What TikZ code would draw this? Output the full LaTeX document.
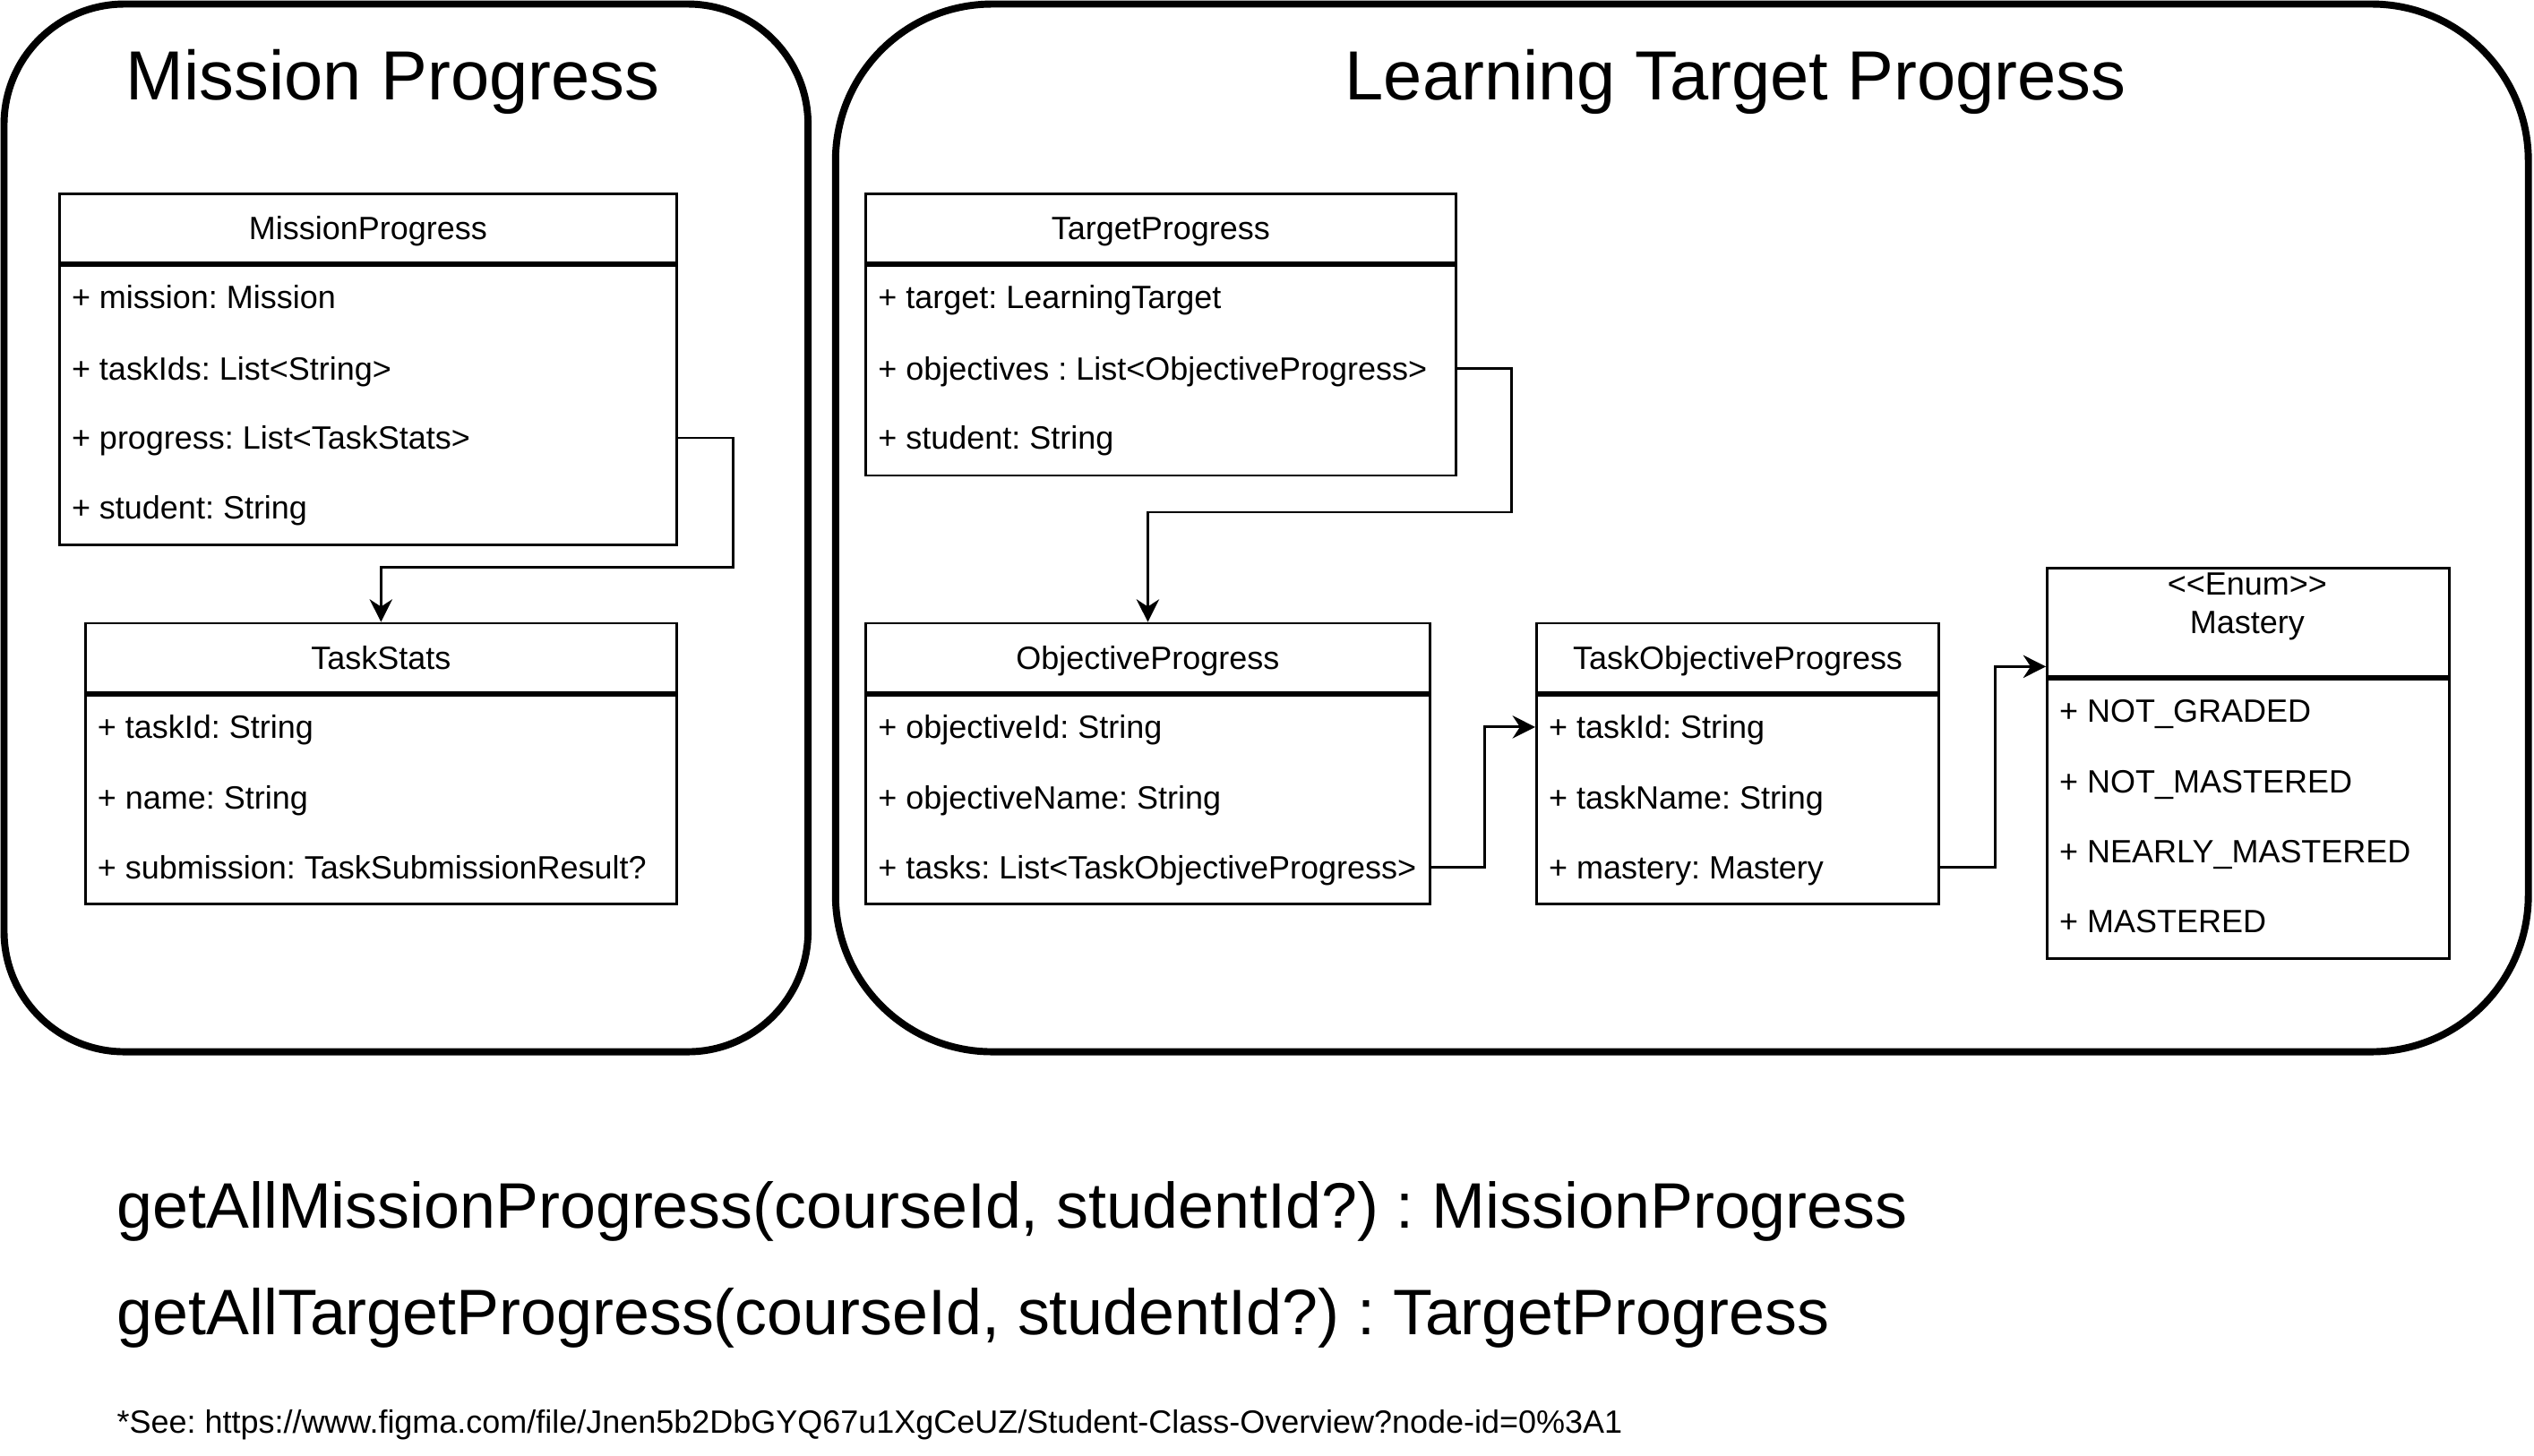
\documentclass[tikz,border=0pt]{standalone}
\usepackage{fontspec}
\setmainfont{Liberation Sans}
\usetikzlibrary{arrows.meta}
\frenchspacing
\tikzset{
	container/.style={draw=black, line width=2.5pt},
	classhead/.style={draw=black, line width=0.9pt, anchor=north west, inner sep=0pt, text height=10pt, text depth=2pt, font=\fontsize{11.35}{13.6}\selectfont},
	classbody/.style={draw=black, line width=0.9pt, anchor=north west, inner sep=0pt},
	attr/.style={anchor=west, inner xsep=0.16cm, inner ysep=0pt, text height=10pt, text depth=2pt, font=\fontsize{11.35}{13.6}\selectfont},
	link/.style={draw=black, line width=0.9pt, -{Stealth[length=8pt, width=8pt, inset=2.6pt]}},
	bigtitle/.style={anchor=base, inner sep=0pt, font=\fontsize{24.5}{29}\selectfont},
	apicall/.style={anchor=base west, inner sep=0pt, font=\fontsize{22.65}{27}\selectfont}
}
\begin{document}
\begin{tikzpicture}[x=0.02cm, y=-0.02cm]
		\useasboundingbox (0,0) rectangle (1568,901.2);
		\draw[container, rounded corners=1.49cm] (2.5,2.5) rectangle (500,651);
		\draw[container, rounded corners=1.94cm] (517,2.5) rectangle (1564.5,651);
		\node[bigtitle] (ttlmission) at (243,62) {Mission Progress};
		\node[bigtitle] (ttltarget) at (1074,62) {Learning Target Progress};
		
		\node[classhead, minimum width=7.64cm, minimum height=0.86cm] (mp) at (36,119) {MissionProgress};
		\node[classbody, minimum width=7.64cm, minimum height=3.46cm] (mpb) at (mp.south west) {};
		\node[attr] (mp1) at (36,184) {+ mission: Mission};
		\node[attr] (mp2) at (36,228) {+ taskIds: List<String>};
		\node[attr] (mp3) at (36,271) {+ progress: List<TaskStats>};
		\node[attr] (mp4) at (36,314) {+ student: String};
		
		\node[classhead, minimum width=7.32cm, minimum height=0.86cm] (ts) at (52,385) {TaskStats};
		\node[classbody, minimum width=7.32cm, minimum height=2.58cm] (tsb) at (ts.south west) {};
		\node[attr] (ts1) at (52,450) {+ taskId: String};
		\node[attr] (ts2) at (52,494) {+ name: String};
		\node[attr] (ts3) at (52,537) {+ submission: TaskSubmissionResult?};
		
		\node[classhead, minimum width=7.3cm, minimum height=0.86cm] (tp) at (535,119) {TargetProgress};
		\node[classbody, minimum width=7.3cm, minimum height=2.6cm] (tpb) at (tp.south west) {};
		\node[attr] (tp1) at (535,184) {+ target: LearningTarget};
		\node[attr] (tp2) at (535,228) {+ objectives : List<ObjectiveProgress>};
		\node[attr] (tp3) at (535,271) {+ student: String};
		
		\node[classhead, minimum width=6.98cm, minimum height=0.86cm] (op) at (535,385) {ObjectiveProgress};
		\node[classbody, minimum width=6.98cm, minimum height=2.58cm] (opb) at (op.south west) {};
		\node[attr] (op1) at (535,450) {+ objectiveId: String};
		\node[attr] (op2) at (535,494) {+ objectiveName: String};
		\node[attr] (op3) at (535,537) {+ tasks: List<TaskObjectiveProgress>};
		
		\node[classhead, minimum width=4.98cm, minimum height=0.86cm] (to) at (950,385) {TaskObjectiveProgress};
		\node[classbody, minimum width=4.98cm, minimum height=2.58cm] (tob) at (to.south west) {};
		\node[attr] (to1) at (950,450) {+ taskId: String};
		\node[attr] (to2) at (950,494) {+ taskName: String};
		\node[attr] (to3) at (950,537) {+ mastery: Mastery};
		
		\node[classhead, minimum width=4.98cm, minimum height=1.34cm] (msh) at (1266,351) {};
		\node[align=center, inner sep=0pt, font=\fontsize{11.35}{13.6}\selectfont] (msname) at (1390.5,375.5) {<{}<Enum>{}>\\Mastery};
		\node[classbody, minimum width=4.98cm, minimum height=3.46cm] (msb) at (msh.south west) {};
		\node[attr] (ms1) at (1266,440) {+ NOT\_GRADED};
		\node[attr] (ms2) at (1266,484) {+ NOT\_MASTERED};
		\node[attr] (ms3) at (1266,527) {+ NEARLY\_MASTERED};
		\node[attr] (ms4) at (1266,570) {+ MASTERED};
		
		\draw[link] (mpb.east |- mp3) -- ++(34,0) -- ++(0,80) -| (ts.north);
		\draw[link] (tpb.east |- tp2) -- ++(34,0) -- ++(0,89) -| (op.north);
		\draw[link] (opb.east |- op3) -- ++(33,0) |- (tob.west |- to1);
		\draw[link] (tob.east |- to3) -- ++(34,0) |- ([yshift=0.14cm]msh.south west);
		
		\node[apicall] (callmission) at (72,760) {getAllMissionProgress(courseId, studentId?) : MissionProgress};
		\node[apicall] (calltarget) at (72,826) {getAllTargetProgress(courseId, studentId?) : TargetProgress};
		\node[anchor=base west, inner sep=0pt, font=\fontsize{11.35}{13.6}\selectfont] (figmanote) at (72,887) {*See: https://www.figma.com/file/Jnen5b2DbGYQ67u1XgCeUZ/Student-Class-Overview?node-id=0\%3A1};
	\end{tikzpicture}
\end{document}
